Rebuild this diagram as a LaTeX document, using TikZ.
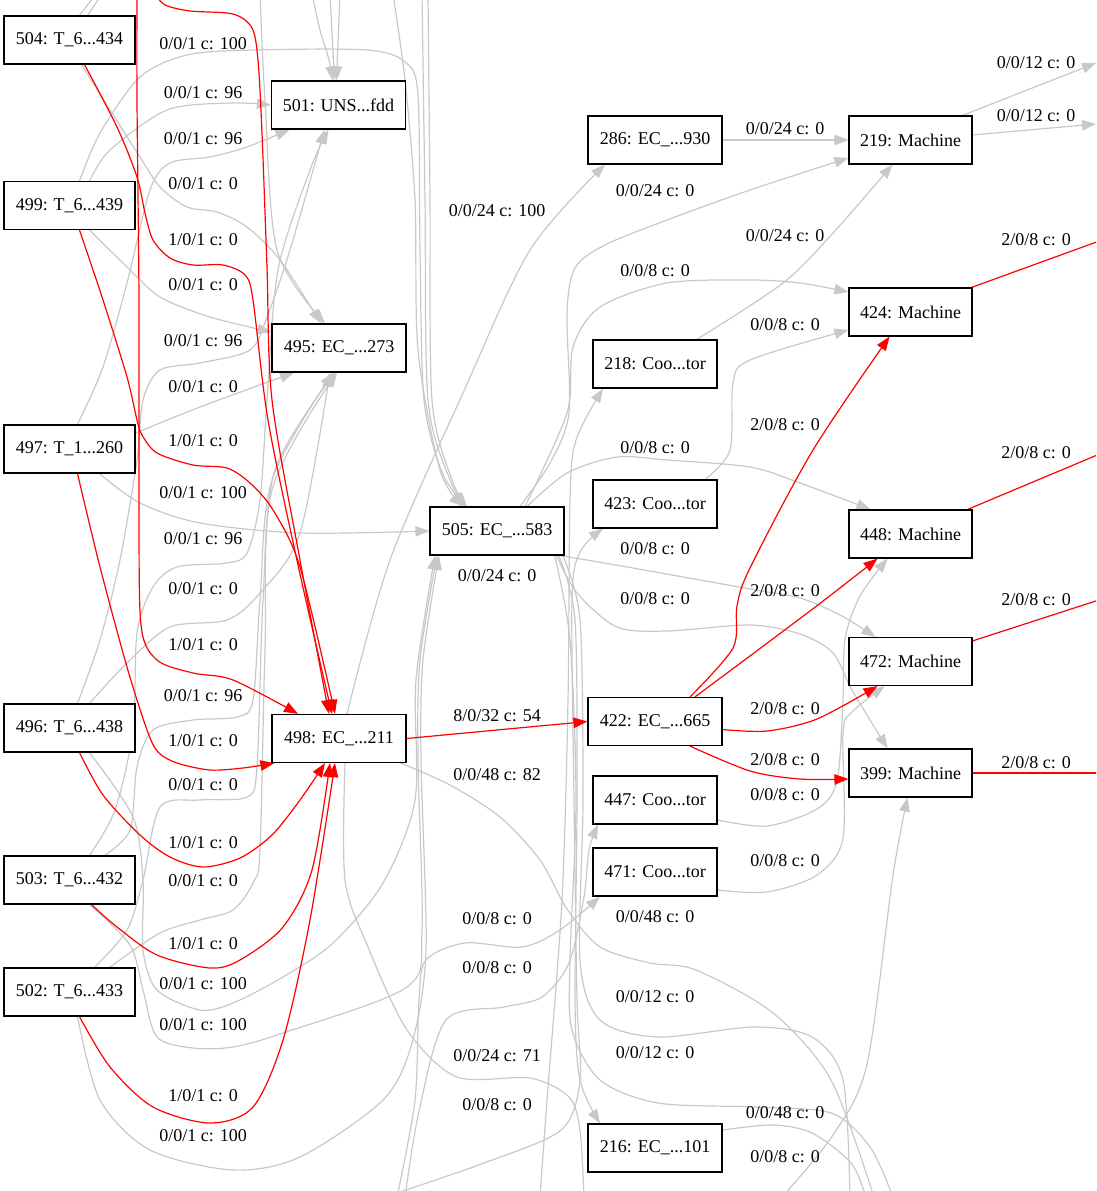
\documentclass[tikz,border=0pt]{standalone}
\usepackage{fontspec}
\setmainfont{Liberation Serif}
\usetikzlibrary{arrows.meta,backgrounds}
\definecolor{edgegray}{RGB}{200,200,200}
\newcommand\dfont{\fontsize{18}{21}\selectfont}
\begin{document}
\begin{tikzpicture}[x=1pt,y=-1pt,
  box/.style={draw=black,fill=white,line width=1.2pt,minimum height=48pt,inner sep=0pt,font=\dfont},
  tbox/.style={box,minimum width=131pt},
  ebox/.style={box,minimum width=134pt},
  cbox/.style={box,minimum width=124pt},
  mbox/.style={box,minimum width=123pt},
  lab/.style={inner sep=0pt,font=\dfont},
  gedge/.style={draw=edgegray,line width=1.2pt},
  redge/.style={draw=red,line width=1.2pt},
  arw/.style={-{Triangle[length=14pt,width=10.5pt]}},
]
\useasboundingbox (0,0) rectangle (1096,1191);
\clip (0,0) rectangle (1096,1191);
% ---------- nodes
\node[tbox] (t504) at (69.5,40) {504: T\_6...434};
\node[tbox] (t499) at (69.5,205.5) {499: T\_6...439};
\node[tbox] (t497) at (69.5,449) {497: T\_1...260};
\node[tbox] (t496) at (69.5,728) {496: T\_6...438};
\node[tbox] (t503) at (69.5,880) {503: T\_6...432};
\node[tbox] (t502) at (69.5,992) {502: T\_6...433};
\node[ebox] (n501) at (338.5,105) {501: UNS...fdd};
\node[ebox] (n495) at (339,348) {495: EC\_...273};
\node[ebox] (n498) at (339,738.5) {498: EC\_...211};
\node[ebox] (n505) at (497,531) {505: EC\_...583};
\node[ebox] (n286) at (655,140) {286: EC\_...930};
\node[cbox] (n218) at (655,364) {218: Coo...tor};
\node[cbox] (n423) at (655,504) {423: Coo...tor};
\node[ebox] (n422) at (655,721.5) {422: EC\_...665};
\node[cbox] (n447) at (655,800) {447: Coo...tor};
\node[cbox] (n471) at (655,872) {471: Coo...tor};
\node[ebox] (n216) at (655,1148) {216: EC\_...101};
\node[mbox] (m219) at (910.5,140) {219: Machine};
\node[mbox] (m424) at (910.5,312) {424: Machine};
\node[mbox] (m448) at (910.5,534) {448: Machine};
\node[mbox] (m472) at (910.5,661.5) {472: Machine};
\node[mbox] (m399) at (910.5,773) {399: Machine};
% ---------- labels
\node[lab] (l1) at (203,44) {0/0/1 c: 100};
\node[lab] (l2) at (203,93) {0/0/1 c: 96};
\node[lab] (l3) at (203,139) {0/0/1 c: 96};
\node[lab] (l4) at (203,184) {0/0/1 c: 0};
\node[lab] (l5) at (203,240) {1/0/1 c: 0};
\node[lab] (l6) at (203,285) {0/0/1 c: 0};
\node[lab] (l7) at (203,341) {0/0/1 c: 96};
\node[lab] (l8) at (203,387) {0/0/1 c: 0};
\node[lab] (l9) at (203,441) {1/0/1 c: 0};
\node[lab] (l10) at (203,493) {0/0/1 c: 100};
\node[lab] (l11) at (203,539) {0/0/1 c: 96};
\node[lab] (l12) at (203,589) {0/0/1 c: 0};
\node[lab] (l13) at (203,645) {1/0/1 c: 0};
\node[lab] (l14) at (203,696) {0/0/1 c: 96};
\node[lab] (l15) at (203,741) {1/0/1 c: 0};
\node[lab] (l16) at (203,785) {0/0/1 c: 0};
\node[lab] (l17) at (203,843) {1/0/1 c: 0};
\node[lab] (l18) at (203,881) {0/0/1 c: 0};
\node[lab] (l19) at (203,944) {1/0/1 c: 0};
\node[lab] (l20) at (203,984) {0/0/1 c: 100};
\node[lab] (l21) at (203,1025) {0/0/1 c: 100};
\node[lab] (l22) at (203,1096) {1/0/1 c: 0};
\node[lab] (l23) at (203,1136) {0/0/1 c: 100};
\node[lab] (l24) at (497,211) {0/0/24 c: 100};
\node[lab] (l25) at (497,576) {0/0/24 c: 0};
\node[lab] (l26) at (497,716) {8/0/32 c: 54};
\node[lab] (l27) at (497,775) {0/0/48 c: 82};
\node[lab] (l28) at (497,919) {0/0/8 c: 0};
\node[lab] (l29) at (497,968) {0/0/8 c: 0};
\node[lab] (l30) at (497,1056) {0/0/24 c: 71};
\node[lab] (l31) at (497,1105) {0/0/8 c: 0};
\node[lab] (l32) at (655,191) {0/0/24 c: 0};
\node[lab] (l33) at (655,271) {0/0/8 c: 0};
\node[lab] (l34) at (655,448) {0/0/8 c: 0};
\node[lab] (l35) at (655,549) {0/0/8 c: 0};
\node[lab] (l36) at (655,599) {0/0/8 c: 0};
\node[lab] (l37) at (655,917) {0/0/48 c: 0};
\node[lab] (l38) at (655,997) {0/0/12 c: 0};
\node[lab] (l39) at (655,1053) {0/0/12 c: 0};
\node[lab] (l40) at (785,129) {0/0/24 c: 0};
\node[lab] (l41) at (785,236) {0/0/24 c: 0};
\node[lab] (l42) at (785,325) {0/0/8 c: 0};
\node[lab] (l43) at (785,425) {2/0/8 c: 0};
\node[lab] (l44) at (785,591) {2/0/8 c: 0};
\node[lab] (l45) at (785,709) {2/0/8 c: 0};
\node[lab] (l46) at (785,760) {2/0/8 c: 0};
\node[lab] (l47) at (785,795) {0/0/8 c: 0};
\node[lab] (l48) at (785,861) {0/0/8 c: 0};
\node[lab] (l49) at (785,1113) {0/0/48 c: 0};
\node[lab] (l50) at (785,1157) {0/0/8 c: 0};
\node[lab] (l51) at (1036,63) {0/0/12 c: 0};
\node[lab] (l52) at (1036,116) {0/0/12 c: 0};
\node[lab] (l53) at (1036,240) {2/0/8 c: 0};
\node[lab] (l54) at (1036,453) {2/0/8 c: 0};
\node[lab] (l55) at (1036,600) {2/0/8 c: 0};
\node[lab] (l56) at (1036,763) {2/0/8 c: 0};
% ---------- edges
\begin{pgfonlayer}{background}
\clip (0,0) rectangle (1096,1191);
\coordinate (fA) at (137,-6);
\coordinate (fB) at (155,-6);
\coordinate (fG5) at (260,-6);
\coordinate (f501a) at (312,-6);
\coordinate (f501b) at (330,-6);
\coordinate (f501c) at (340,-6);
\coordinate (f504a) at (96,-6);
\coordinate (f504b) at (102,-6);
\coordinate (f505a) at (393,-6);
\coordinate (f505b) at (422,-6);
\coordinate (f505c) at (428,-6);
\coordinate (f219a) at (1096,63);
\coordinate (f219b) at (1096,124);
\coordinate (fr424) at (1102,240);
\coordinate (fr448) at (1102,453);
\coordinate (fr472) at (1102,599);
\coordinate (fr399) at (1102,773);
\coordinate (f82) at (874,1197);
\coordinate (f71) at (584,1197);
\coordinate (f12a) at (850,1197);
\coordinate (f12b) at (893,1197);
\coordinate (f216) at (866,1197);
\coordinate (f399) at (782,1197);
\coordinate (f423) at (385,1197);
\coordinate (f218) at (540,1197);
\coordinate (f447) at (405,1197);
\coordinate (f471) at (397,1197);
% gray: from the top
\draw[gedge,arw] plot[smooth] coordinates {(f501a) (320,30) (329,60) ([xshift=-6pt]n501.north)};
\draw[gedge,arw] (f501b) -- ([xshift=-4pt]n501.north);
\draw[gedge,arw] (f501c) -- ([xshift=-2pt]n501.north);
\draw[gedge] ([xshift=10pt]t504.north) -- (f504a);
\draw[gedge] ([xshift=18pt]t504.north) -- (f504b);
\draw[gedge,arw] plot[smooth] coordinates {(fG5) (265,100) (277,250) ([xshift=-14pt]n495.north)};
\draw[gedge,arw] plot[smooth] coordinates {(f505a) (405,80) (415,200) (418,350) (440,470) ([xshift=-34pt]n505.north)};
\draw[gedge,arw] plot[smooth] coordinates {(f505b) (425,200) (428,400) (450,480) ([xshift=-31pt]n505.north)};
\draw[gedge,arw] plot[smooth] coordinates {(f505c) (430,200) (432,400) (452,480) ([xshift=-30pt]n505.north)};
% gray: T nodes to 501 / 495 / 505
\draw[gedge,arw] plot[smooth] coordinates {([xshift=10pt]t499.north) (100,133) (140,77) (187,55) (253,50) (367,50) (405,62) (418,95) (420,250) (424,400) (442,472) ([xshift=-32pt]n505.north)};
\draw[gedge,arw] plot[smooth] coordinates {([xshift=20pt]t499.north) (110,150) (167,110) (230,103) (n501.west)};
\draw[gedge,arw] plot[smooth] coordinates {([xshift=8pt]t497.north) (103,367) (127,283) (150,190) (170,163) (210,157) (247,147) ([xshift=-49pt]n501.south)};
\draw[gedge,arw] plot[smooth] coordinates {([xshift=12pt]t504.south) (110,110) (140,157) (160,187) (187,207) (217,212) (247,227) (280,260) ([xshift=-18pt]n495.north)};
\draw[gedge,arw] plot[smooth] coordinates {([xshift=20pt]t499.south) (127,267) (160,297) (210,317) ([yshift=16pt]n495.west)};
\draw[gedge,arw] plot[smooth] coordinates {([yshift=16pt]t497.east) (200,407) ([xshift=-45pt]n495.south)};
\draw[gedge,arw] plot[smooth] coordinates {([xshift=8pt]t496.north) (100,640) (120,560) (137,460) (143,400) (160,370) (200,363) (250,350) (267,317) (290,250) ([xshift=-14pt]n501.south)};
\draw[gedge,arw] plot[smooth] coordinates {([xshift=30pt]t497.south) (140,503) (200,523) (300,533) (n505.west)};
\draw[gedge,arw] plot[smooth] coordinates {([xshift=20pt]t503.north) (115,810) (133,730) (137,633) (153,587) (177,567) (227,563) (247,553) (260,500) (267,400) (278,270) (310,170) ([xshift=-10pt]n501.south)};
\draw[gedge,arw] plot[smooth] coordinates {([xshift=20pt]t496.north) (127,663) (170,627) (227,620) (260,593) (300,533) ([xshift=-9pt]n495.south)};
\draw[gedge,arw] plot[smooth] coordinates {([xshift=35pt]t503.north) (130,830) (137,767) (153,730) (193,720) (237,717) (253,700) (260,600) (272,480) ([xshift=-6pt]n495.south)};
\draw[gedge,arw] plot[smooth] coordinates {([xshift=25pt]t502.north) (127,930) (143,880) (160,807) (200,800) (247,797) (257,767) (263,600) (275,470) ([xshift=-4pt]n495.south)};
\draw[gedge,arw] plot[smooth] coordinates {([xshift=40pt]t502.north) (160,933) (200,920) (233,910) (253,883) (260,850) (265,650) (272,490) ([xshift=-2pt]n495.south)};
\draw[gedge,arw] plot[smooth] coordinates {([xshift=20pt]t496.south) (133,817) (143,880) (143,950) (157,990) (200,1010) (233,1003) (283,977) (333,943) (383,883) (415,800) (416,680) ([xshift=-62pt]n505.south)};
\draw[gedge,arw] plot[smooth] coordinates {([xshift=20pt]t503.south) (130,945) (143,990) (157,1037) (193,1048) (233,1047) (283,1033) (407,987) (422,930) (418,760) (420,660) ([xshift=-60pt]n505.south)};
\draw[gedge,arw] plot[smooth] coordinates {([xshift=8pt]t502.south) (100,1100) (150,1150) (233,1170) (300,1157) (383,1100) (412,1043) (426,950) (421,760) (423,660) ([xshift=-58pt]n505.south)};
% gray: 498 / 505 outgoing
\draw[gedge,arw] plot[smooth] coordinates {([xshift=8pt]n498.north) (390,560) (463,393) (530,250) ([xshift=-50pt]n286.south)};
\draw[gedge,arw] (n286.east) -- (m219.west);
\draw[gedge,arw] plot[smooth] coordinates {([xshift=23pt]n505.north) (550,463) (569,413) (567,313) (575,268) (605,245) (667,220) (750,190) ([yshift=-18pt]m219.west)};
\draw[gedge,arw] plot[smooth] coordinates {([xshift=28pt]n505.north) (567,413) (573,347) (600,307) (667,283) (750,280) (800,283) ([yshift=20pt]m424.west)};
\draw[gedge,arw] plot[smooth] coordinates {([xshift=42pt]n218.north) (783,283) (833,233) ([xshift=-18pt]m219.south)};
\draw[gedge,arw] plot[smooth] coordinates {([xshift=50pt]n423.north) (730,450) (733,383) (750,360) ([yshift=-18pt]m424.west)};
\draw[gedge,arw] plot[smooth] coordinates {([xshift=30pt]n505.north) (567,473) (617,457) (667,460) (750,467) (800,483) ([xshift=-40pt]m448.north)};
\draw[gedge,arw] plot[smooth] coordinates {([xshift=-4pt]n505.south east) (633,568) (750,589) (800,598) (840,615) ([xshift=-35pt]m472.north)};
\draw[gedge,arw] plot[smooth] coordinates {([xshift=-8pt]n505.south east) (577,593) (617,627) (667,631) (750,625) (800,634) (833,653) (852,690) ([xshift=-23pt]m399.north)};
\draw[gedge,arw] plot[smooth] coordinates {([yshift=-20pt]n447.east) (767,826) (817,809) (837,781) (843,700) (845,639) (860,596) ([xshift=-23pt]m448.south)};
\draw[gedge,arw] plot[smooth] coordinates {([yshift=-18pt]n471.east) (767,892) (817,875) (843,838) (843,733) (852,712) ([xshift=-26pt]m472.south)};
\draw[gedge,arw] ([xshift=52pt]m219.north) -- (f219a);
\draw[gedge,arw] ([yshift=5pt]m219.east) -- (f219b);
\draw[gedge] plot[smooth] coordinates {([xshift=-6pt]n498.south east) (450,785) (500,817) (540,860) (567,909) (600,947) (650,963) (696,970) (773,1013) (831,1080) (f82)};
\draw[gedge] plot[smooth] coordinates {([xshift=6pt]n498.south) (345,880) (368,947) (407,1030) (457,1077) (530,1078) (569,1097) (580,1130) (f71)};
\draw[gedge,arw] plot[smooth] coordinates {([xshift=-6pt]n505.south east) (575,620) (577,800) (575,1000) (580,1080) ([xshift=-55pt]n216.north)};
\draw[gedge] plot[smooth] coordinates {([xshift=-2pt]n505.south east) (580,620) (583,800) (580,960) (600,1020) (658,1037) (754,1027) (812,1037) (843,1080) (f12a)};
\draw[gedge] plot[smooth] coordinates {([xshift=-10pt]n505.south east) (570,640) (576,800) (570,960) (572,1030) (600,1080) (658,1103) (754,1107) (831,1113) (870,1147) (f12b)};
\draw[gedge] plot[smooth] coordinates {([yshift=18pt]n216.east) (773,1125) (812,1133) (851,1163) (f216)};
\draw[gedge,arw] plot[smooth] coordinates {(f399) (833,1135) (867,1064) (893,875) ([xshift=-3pt]m399.south)};
\draw[gedge,arw] plot[smooth] coordinates {(f423) (484,1163) (561,1130) (580,1080) (577,1000) (574,800) (572,600) (580,552) ([xshift=-52pt]n423.south)};
\draw[gedge,arw] plot[smooth] coordinates {(f218) (547,1100) (562,900) (568,700) (570,500) (576,440) ([xshift=-52pt]n218.south)};
\draw[gedge,arw] plot[smooth] coordinates {(f447) (419,1111) (446,1020) (504,1007) (542,997) (569,963) (584,897) (589,850) ([xshift=-57pt]n447.south)};
\draw[gedge,arw] plot[smooth] coordinates {(f471) (415,1100) (419,1000) (426,960) (465,943) (522,947) (560,930) ([xshift=-55pt]n471.south)};
% red edges
\draw[redge,arw] plot[smooth] coordinates {(fA) (137,100) (139,300) (139,500) (141,625) (157,660) (193,673) (233,680) ([xshift=-41pt]n498.north)};
\draw[redge,arw] plot[smooth] coordinates {(fB) (165,5) (190,11) (233,14) (252,28) (258,60) (262,133) (267,267) (272,400) (300,560) ([xshift=-10pt]n498.north)};
\draw[redge,arw] plot[smooth] coordinates {([xshift=15pt]t504.south) (117,127) (137,177) (145,213) (153,240) (170,258) (193,265) (223,265) (245,275) (253,300) (268,420) (298,565) ([xshift=-7pt]n498.north)};
\draw[redge,arw] plot[smooth] coordinates {([xshift=10pt]t499.south) (103,300) (127,377) (137,420) (142,435) (157,453) (193,465) (227,468) (250,483) (273,510) (300,567) ([xshift=-4pt]n498.north)};
\draw[redge,arw] plot[smooth] coordinates {([xshift=8pt]t497.south) (100,567) (127,667) (147,730) (158,752) (177,763) (210,770) (243,768) ([xshift=3pt]n498.south west)};
\draw[redge,arw] plot[smooth] coordinates {([xshift=10pt]t496.south) (103,795) (140,835) (170,857) (203,867) (240,858) (272,835) (300,800) ([xshift=-14pt]n498.south)};
\draw[redge,arw] plot[smooth] coordinates {([xshift=22pt]t503.south) (117,927) (157,955) (210,968) (240,960) (283,927) (312,870) ([xshift=-9pt]n498.south)};
\draw[redge,arw] plot[smooth] coordinates {([xshift=10pt]t502.south) (110,1067) (153,1107) (210,1123) (253,1107) (283,1040) (310,920) ([xshift=-4pt]n498.south)};
\draw[redge,arw] (n498.east) -- (n422.west);
\draw[redge,arw] plot[smooth] coordinates {([xshift=35pt]n422.north) (733,648) (737,606) (750,568) (813,450) ([xshift=-21pt]m424.south)};
\draw[redge,arw] plot[smooth] coordinates {([xshift=40pt]n422.north) (810,611) ([xshift=-33pt]m448.south)};
\draw[redge,arw] plot[smooth] coordinates {([yshift=-8pt]n422.east) (767,731) (817,719) ([xshift=-33pt]m472.south)};
\draw[redge,arw] plot[smooth] coordinates {([xshift=35pt]n422.south) (750,771) (800,779) ([yshift=-6pt]m399.west)};
\draw[redge] ([xshift=-1pt]m424.north east) -- (fr424);
\draw[redge] ([xshift=-5pt]m448.north east) -- (fr448);
\draw[redge] ([yshift=-4pt]m472.north east) -- (fr472);
\draw[redge] (m399.east) -- (fr399);
\end{pgfonlayer}
\end{tikzpicture}
\end{document}
